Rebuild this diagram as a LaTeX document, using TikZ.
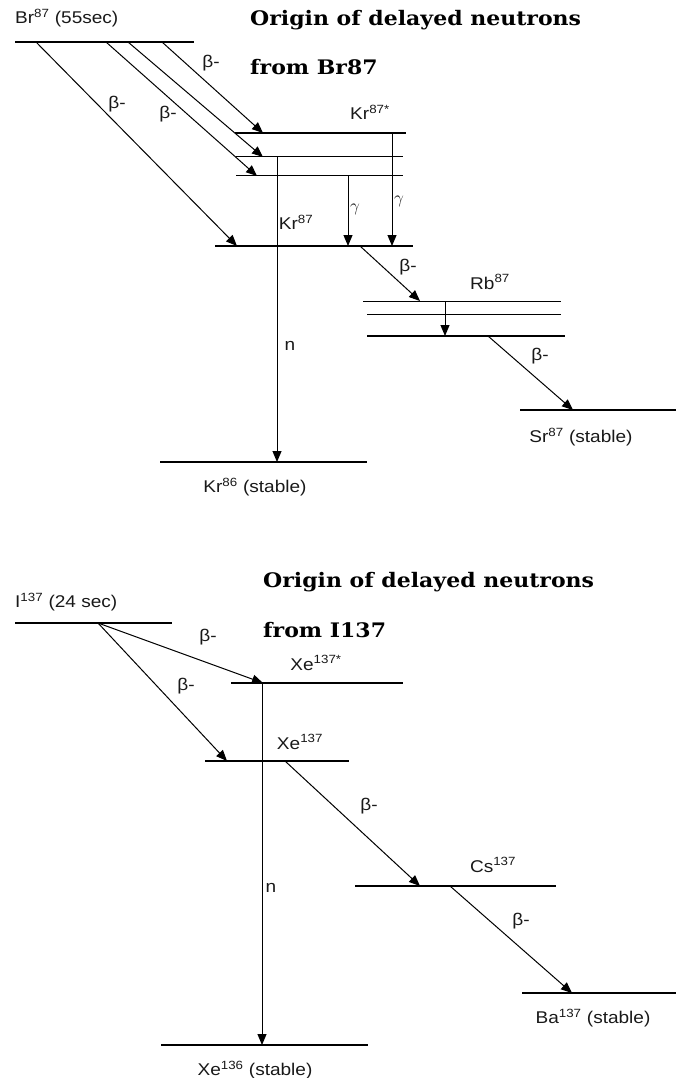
\documentclass[tikz,border=0pt]{standalone}
\usepackage{fontspec}
\setmainfont[FakeStretch=1.12]{Liberation Sans}
\newfontfamily\titlefont[FakeStretch=1.1]{DejaVu Serif}
\usetikzlibrary{arrows.meta}
\tikzset{
  level/.style={line width=2.2pt},
  sublevel/.style={line width=1pt},
  decay/.style={line width=1pt,-{Triangle[length=11pt,width=9pt]}},
  lbl/.style={font=\fontsize{17}{20}\selectfont, inner sep=0pt, text=black!90},
  glbl/.style={font=\fontsize{18}{20}\selectfont, inner sep=0pt, text=black!90},
  ttl/.style={font=\titlefont\bfseries\fontsize{20}{23}\selectfont, anchor=west, inner sep=0pt}
}
\begin{document}
\begin{tikzpicture}[x=1pt,y=-1pt]
\useasboundingbox (0,0) rectangle (676,1078);
% ---------------- Br87 part ----------------
\node[ttl] (t1a) at (250,20) {Origin of delayed neutrons};
\node[ttl] (t1b) at (250,67) {from Br87};
% levels
\coordinate (brL) at (15,42);  \coordinate (brR) at (194,42);
\coordinate (ksL) at (235,133); \coordinate (ksR) at (406,133);
\coordinate (k1L) at (236,157); \coordinate (k1R) at (403,157);
\coordinate (k2L) at (236,176); \coordinate (k2R) at (403,176);
\coordinate (kL) at (215,246); \coordinate (kR) at (413,246);
\coordinate (r1L) at (363,301); \coordinate (r1R) at (561,301);
\coordinate (r2L) at (367,314); \coordinate (r2R) at (561,314);
\coordinate (rL) at (367,336); \coordinate (rR) at (565,336);
\coordinate (sL) at (520,410); \coordinate (sR) at (676,410);
\coordinate (k6L) at (160,462); \coordinate (k6R) at (367,462);
\draw[level] (brL) -- (brR);
\draw[level] (ksL) -- (ksR);
\draw[sublevel] (k1L) -- (k1R);
\draw[sublevel] (k2L) -- (k2R);
\draw[level] (kL) -- (kR);
\draw[sublevel] (r1L) -- (r1R);
\draw[sublevel] (r2L) -- (r2R);
\draw[level] (rL) -- (rR);
\draw[level] (sL) -- (sR);
\draw[level] (k6L) -- (k6R);
% labels
\node[lbl,anchor=west] (brT) at (15,18) {Br\textsuperscript{87} (55sec)};
\node[lbl] (ksT) at (370,112) {Kr\textsuperscript{87*}};
\node[lbl] (kT) at (296,222) {Kr\textsuperscript{87}};
\node[lbl] (rT) at (490,282) {Rb\textsuperscript{87}};
\node[lbl] (sT) at (581,437) {Sr\textsuperscript{87} (stable)};
\node[lbl] (k6T) at (255,487) {Kr\textsuperscript{86} (stable)};
% transition points
\coordinate (a1s) at (36,42);  \coordinate (a1e) at (237,246);
\coordinate (a2s) at (106,42); \coordinate (a2e) at (257,176);
\coordinate (a3s) at (128,42); \coordinate (a3e) at (263,157);
\coordinate (a4s) at (162,42); \coordinate (a4e) at (263,133);
\coordinate (ns) at (277,157); \coordinate (ne) at (277,462);
\coordinate (g1s) at (348,176); \coordinate (g1e) at (348,246);
\coordinate (g2s) at (392,133); \coordinate (g2e) at (392,246);
\coordinate (b5s) at (360,246); \coordinate (b5e) at (420,301);
\coordinate (rgs) at (445,301); \coordinate (rge) at (445,336);
\coordinate (b6s) at (488,336); \coordinate (b6e) at (573,410);
\draw[decay] (a1s) -- (a1e);
\draw[decay] (a2s) -- (a2e);
\draw[decay] (a3s) -- (a3e);
\draw[decay] (a4s) -- (a4e);
\draw[decay] (ns) -- (ne);
\draw[decay] (g1s) -- (g1e);
\draw[decay] (g2s) -- (g2e);
\draw[decay] (b5s) -- (b5e);
\draw[decay] (rgs) -- (rge);
\draw[decay] (b6s) -- (b6e);
\node[lbl] (l1) at (117,104) {β-};
\node[lbl] (l2) at (168,114) {β-};
\node[lbl] (l4) at (211,63) {β-};
\node[lbl] (ln) at (290,346) {n};
\node[glbl] (lg1) at (355,209) {$\gamma$};
\node[glbl] (lg2) at (399,201) {$\gamma$};
\node[lbl] (l5) at (408,267) {β-};
\node[lbl] (l6) at (540,356) {β-};
% ---------------- I137 part ----------------
\node[ttl] (t2a) at (263,582) {Origin of delayed neutrons};
\node[ttl] (t2b) at (263,630) {from I137};
\coordinate (iL) at (15,623);  \coordinate (iR) at (172,623);
\coordinate (xsL) at (231,683); \coordinate (xsR) at (403,683);
\coordinate (xL) at (205,761); \coordinate (xR) at (349,761);
\coordinate (x6L) at (161,1045); \coordinate (x6R) at (368,1045);
\coordinate (cL) at (355,886); \coordinate (cR) at (556,886);
\coordinate (bL) at (522,993); \coordinate (bR) at (676,993);
\draw[level] (iL) -- (iR);
\draw[level] (xsL) -- (xsR);
\draw[level] (xL) -- (xR);
\draw[level] (x6L) -- (x6R);
\draw[level] (cL) -- (cR);
\draw[level] (bL) -- (bR);
\node[lbl,anchor=west] (iT) at (15,602) {I\textsuperscript{137} (24 sec)};
\node[lbl] (xsT) at (316,663) {Xe\textsuperscript{137*}};
\node[lbl] (xT) at (300,742) {Xe\textsuperscript{137}};
\node[lbl] (x6T) at (255,1070) {Xe\textsuperscript{136} (stable)};
\node[lbl] (cT) at (493,865) {Cs\textsuperscript{137}};
\node[lbl] (bT) at (593,1018) {Ba\textsuperscript{137} (stable)};
\coordinate (c1s) at (98,623); \coordinate (c1e) at (263,683);
\coordinate (c2e) at (227,761);
\coordinate (n2s) at (262,683); \coordinate (n2e) at (262,1045);
\coordinate (c3s) at (285,761); \coordinate (c3e) at (420,886);
\coordinate (c4s) at (450,886); \coordinate (c4e) at (572,993);
\draw[decay] (c1s) -- (c1e);
\draw[decay] (c1s) -- (c2e);
\draw[decay] (n2s) -- (n2e);
\draw[decay] (c3s) -- (c3e);
\draw[decay] (c4s) -- (c4e);
\node[lbl] (m1) at (208,637) {β-};
\node[lbl] (m2) at (186,686) {β-};
\node[lbl] (mn) at (271,888) {n};
\node[lbl] (m3) at (369,806) {β-};
\node[lbl] (m4) at (521,921) {β-};
\end{tikzpicture}
\end{document}
